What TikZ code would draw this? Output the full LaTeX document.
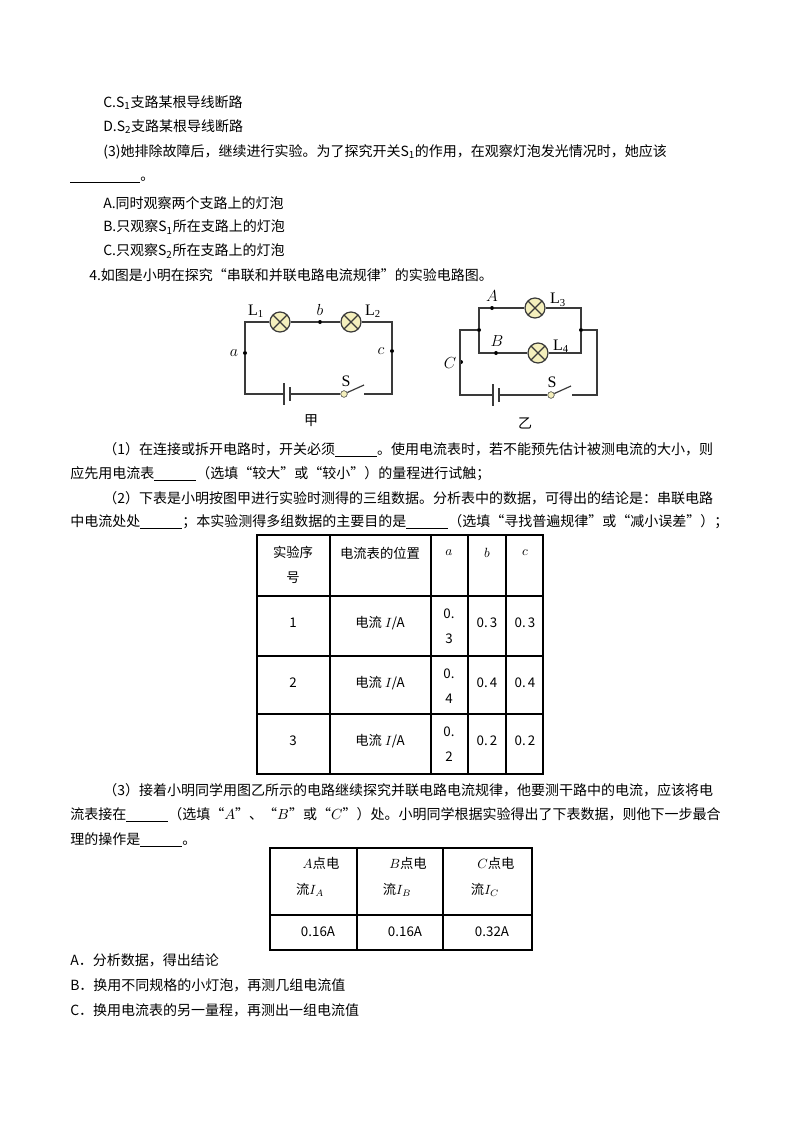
\documentclass[tikz,border=0pt]{standalone}
\usepackage{fontspec}
\setmainfont{Noto Sans CJK SC}
\newfontfamily\serifl{Liberation Serif}
\usetikzlibrary{positioning}
\definecolor{wire_gray}{HTML}{3A3A3A}
\definecolor{lamp_yellow}{HTML}{F4EFBC}
\newcommand{\blank}[1]{\underline{\hspace{#1}}}

\begin{document}
\begin{tikzpicture}[x=0.75pt, y=-0.75pt, font=\fontsize{10.5pt}{13pt}\selectfont,
  txt/.style={anchor=west, inner sep=0pt},
  wire/.style={draw=wire_gray, line width=0.9pt},
  lamp/.style={circle, draw=wire_gray, line width=0.9pt, fill=lamp_yellow, minimum size=15pt, inner sep=0pt,
    path picture={\draw[wire_gray, line width=0.9pt] (path picture bounding box.south west) -- (path picture bounding box.north east)
      (path picture bounding box.north west) -- (path picture bounding box.south east);}},
  dot/.style={circle, fill=black, minimum size=3pt, inner sep=0pt},
  pivot/.style={circle, draw=wire_gray, fill=lamp_yellow, minimum size=5pt, inner sep=0pt},
  lbl/.style={font=\fontsize{12pt}{13pt}\selectfont, inner sep=1pt},
  rlbl/.style={font=\fontsize{12pt}{13pt}\serifl, inner sep=1pt},
  cell/.style={align=center, font=\fontsize{10pt}{19pt}\selectfont},
  grid/.style={draw=black, line width=1pt}]
\useasboundingbox (0,0) rectangle (800,1132);

% text above the circuits
\node[txt] (t1) at (103,103) {C.S\textsubscript{1}支路某根导线断路};
\node[txt] (t2) at (103,127) {D.S\textsubscript{2}支路某根导线断路};
\node[txt] (t3) at (103,152) {(3)她排除故障后，继续进行实验。为了探究开关S\textsubscript{1}的作用，在观察灯泡发光情况时，她应该};
\node[txt] (t4) at (70,180) {\blank{5em}。};
\node[txt] (t5) at (103,203) {A.同时观察两个支路上的灯泡};
\node[txt] (t6) at (103,227) {B.只观察S\textsubscript{1}所在支路上的灯泡};
\node[txt] (t7) at (103,251) {C.只观察S\textsubscript{2}所在支路上的灯泡};
\node[txt] (t8) at (89,275) {4.如图是小明在探究“串联和并联电路电流规律”的实验电路图。};

% circuit jia
\coordinate (jTL) at (245,322); \coordinate (jTR) at (392,322);
\coordinate (jBL) at (245,394); \coordinate (jBR) at (392,394);
\node[lamp] (L1) at (280,322) {};
\node[lamp] (L2) at (351,322) {};
\node[dot] (b) at (320,322) {};
\node[dot] (a) at (245,353) {};
\node[dot] (c) at (392,351) {};
\coordinate (bat1) at (284,394); \coordinate (bat2) at (290,394);
\node[pivot] (S) at (344,394) {};
\coordinate (sOut) at (364,394);
\draw[wire] (L1) -- (b) -- (L2) -- (jTR) -- (c) -- (jBR) -- (sOut);
\draw[wire] (L1) -- (jTL) -- (a) -- (jBL) -- (bat1);
\draw[wire] (bat2) -- (S);
\draw[wire] (S) -- ++(20,-9);
\draw[wire] ([yshift=-8]bat1) -- ([yshift=8]bat1);
\draw[wire, line width=2pt] ([yshift=-5]bat2) -- ([yshift=5]bat2);
\node[rlbl] at (256,311) {L\textsubscript{1}};
\node[rlbl] at (373,311) {L\textsubscript{2}};
\node[lbl] at (320,310) {$b$};
\node[lbl] at (234,353) {$a$};
\node[lbl] at (381,351) {$c$};
\node[rlbl] at (346,381) {S};
\node (jia) at (311,421) {甲};

% circuit yi
\coordinate (yOL) at (460,330); \coordinate (yBL) at (460,395);
\node[dot] (jL) at (479,330) {};
\node[dot] (jR) at (581,330) {};
\coordinate (yTL) at (479,308); \coordinate (yTR) at (581,308);
\coordinate (yML) at (479,353); \coordinate (yMR) at (581,353);
\coordinate (yOR) at (597,330); \coordinate (yBR) at (597,395);
\node[lamp] (L3) at (535,308) {};
\node[lamp] (L4) at (538,353) {};
\node[dot] (A) at (492,308) {};
\node[dot] (B) at (496,353) {};
\node[dot] (C) at (461,362) {};
\coordinate (ybat1) at (493,395); \coordinate (ybat2) at (499,395);
\node[pivot] (S2) at (551,395) {};
\coordinate (ysOut) at (572,395);
\draw[wire] (jL) -- (yTL) -- (A) -- (L3) -- (yTR) -- (jR);
\draw[wire] (jL) -- (yML) -- (B) -- (L4) -- (yMR) -- (jR);
\draw[wire] (jL) -- (yOL) -- (yBL) -- (ybat1);
\draw[wire] (jR) -- (yOR) -- (yBR) -- (ysOut);
\draw[wire] (ybat2) -- (S2);
\draw[wire] (S2) -- ++(20,-9);
\draw[wire] ([yshift=-8]ybat1) -- ([yshift=8]ybat1);
\draw[wire, line width=2pt] ([yshift=-5]ybat2) -- ([yshift=5]ybat2);
\node[lbl] at (492,296) {$A$};
\node[lbl] at (497,341) {$B$};
\node[lbl] at (450,363) {$C$};
\node[rlbl] at (558,300) {L\textsubscript{3}};
\node[rlbl] at (561,346) {L\textsubscript{4}};
\node[rlbl] at (552,382) {S};
\node (yi) at (525,423) {乙};

% questions (1) and (2)
\node[txt] (q1) at (103,450) {（1）在连接或拆开电路时，开关必须\blank{3em}。使用电流表时，若不能预先估计被测电流的大小，则};
\node[txt] (q1b) at (70,474) {应先用电流表\blank{3em}（选填“较大”或“较小”）的量程进行试触；};
\node[txt] (q2) at (103,498) {（2）下表是小明按图甲进行实验时测得的三组数据。分析表中的数据，可得出的结论是：串联电路};
\node[txt] (q2b) at (70,522) {中电流处处\blank{3em}；本实验测得多组数据的主要目的是\blank{3em}（选填“寻找普遍规律”或“减小误差”）；};

% table one
\draw[grid] (257,535) rectangle (543,774);
\foreach \x in {330,431,468,506} \draw[grid] (\x,535) -- (\x,774);
\foreach \y in {596,656,714} \draw[grid] (257,\y) -- (543,\y);
\node[cell] (h1) at (293,565) {实验序\\号};
\node[cell] (h2) at (380,553) {电流表的位置};
\node[cell] (ha) at (449,553) {$a$};
\node[cell] (hb) at (487,553) {$b$};
\node[cell] (hc) at (525,553) {$c$};
\foreach \r/\y/\v in {1/626/3, 2/686/4, 3/744/2} {
  \node[cell] at (293,\y-3) {\r};
  \node[cell] at (380,\y-3) {电流 $I$/A};
  \node[cell] at (449,\y) {0.\\\v};
  \node[cell] at (487,\y-3) {0.\,\v};
  \node[cell] at (525,\y-3) {0.\,\v};
}

% question (3)
\node[txt] (q3) at (103,790) {（3）接着小明同学用图乙所示的电路继续探究并联电路电流规律，他要测干路中的电流，应该将电};
\node[txt] (q3b) at (70,815) {流表接在\blank{3em}（选填“$A$”、“$B$”或“$C$”）处。小明同学根据实验得出了下表数据，则他下一步最合};
\node[txt] (q3c) at (70,840) {理的操作是\blank{3em}。};

% table two
\draw[grid] (270,848) rectangle (532,950);
\foreach \x in {357,443} \draw[grid] (\x,848) -- (\x,950);
\draw[grid] (270,915) -- (532,915);
\foreach \x/\p in {313/A, 400/B, 488/C} {
  \node[cell] at (\x+8,863) {$\p$点电};
  \node[cell] at (\x-3,890) {流$I_{\p}$};
}
\node[cell] at (318,932) {0.16A};
\node[cell] at (405,932) {0.16A};
\node[cell] at (492,932) {0.32A};

% options
\node[txt] (oa) at (70,960) {A．分析数据，得出结论};
\node[txt] (ob) at (70,985) {B．换用不同规格的小灯泡，再测几组电流值};
\node[txt] (oc) at (70,1010) {C．换用电流表的另一量程，再测出一组电流值};
\end{tikzpicture}
\end{document}
